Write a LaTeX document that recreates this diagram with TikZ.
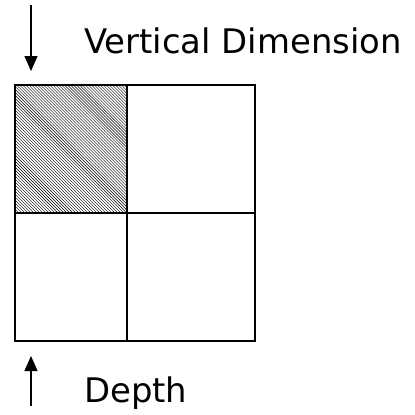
\documentclass[tikz,border=0pt]{standalone}
\usepackage{fontspec}
\setmainfont{DejaVu Sans}
\usetikzlibrary{arrows.meta, patterns}

\begin{document}
\begin{tikzpicture}[
      x=1bp, y=-1bp, >={Triangle[width=13bp, length=15bp]},
      lbl/.style={anchor=base west, inner sep=0pt, font=\fontsize{34}{40}\selectfont},
      cell/.style={draw, line width=1.5bp},
      hatched/.style={cell, pattern=north west lines},
      arr/.style={->, line width=1.2bp},
    ]
      \useasboundingbox (0,0) rectangle (415,415);

      % grid of four cells
      \coordinate (tl) at (15,85);
      \coordinate (mid) at (127,213);
      \coordinate (br) at (255,341);
      \draw[hatched] (tl) rectangle (mid);
      \draw[cell] (tl -| mid) rectangle (br |- mid);
      \draw[cell] (tl |- mid) rectangle (mid |- br);
      \draw[cell] (mid) rectangle (br);

      % labels
      \node[lbl] (vdim) at (84,53) {Vertical Dimension};
      \node[lbl] (depth) at (84,402) {Depth};

      % arrows
      \coordinate (vstart) at (31,5);
      \coordinate (vend) at (31,71);
      \coordinate (dstart) at (31,406);
      \coordinate (dend) at (31,356);
      \draw[arr] (vstart) -- (vend);
      \draw[arr] (dstart) -- (dend);
    \end{tikzpicture}
\end{document}
